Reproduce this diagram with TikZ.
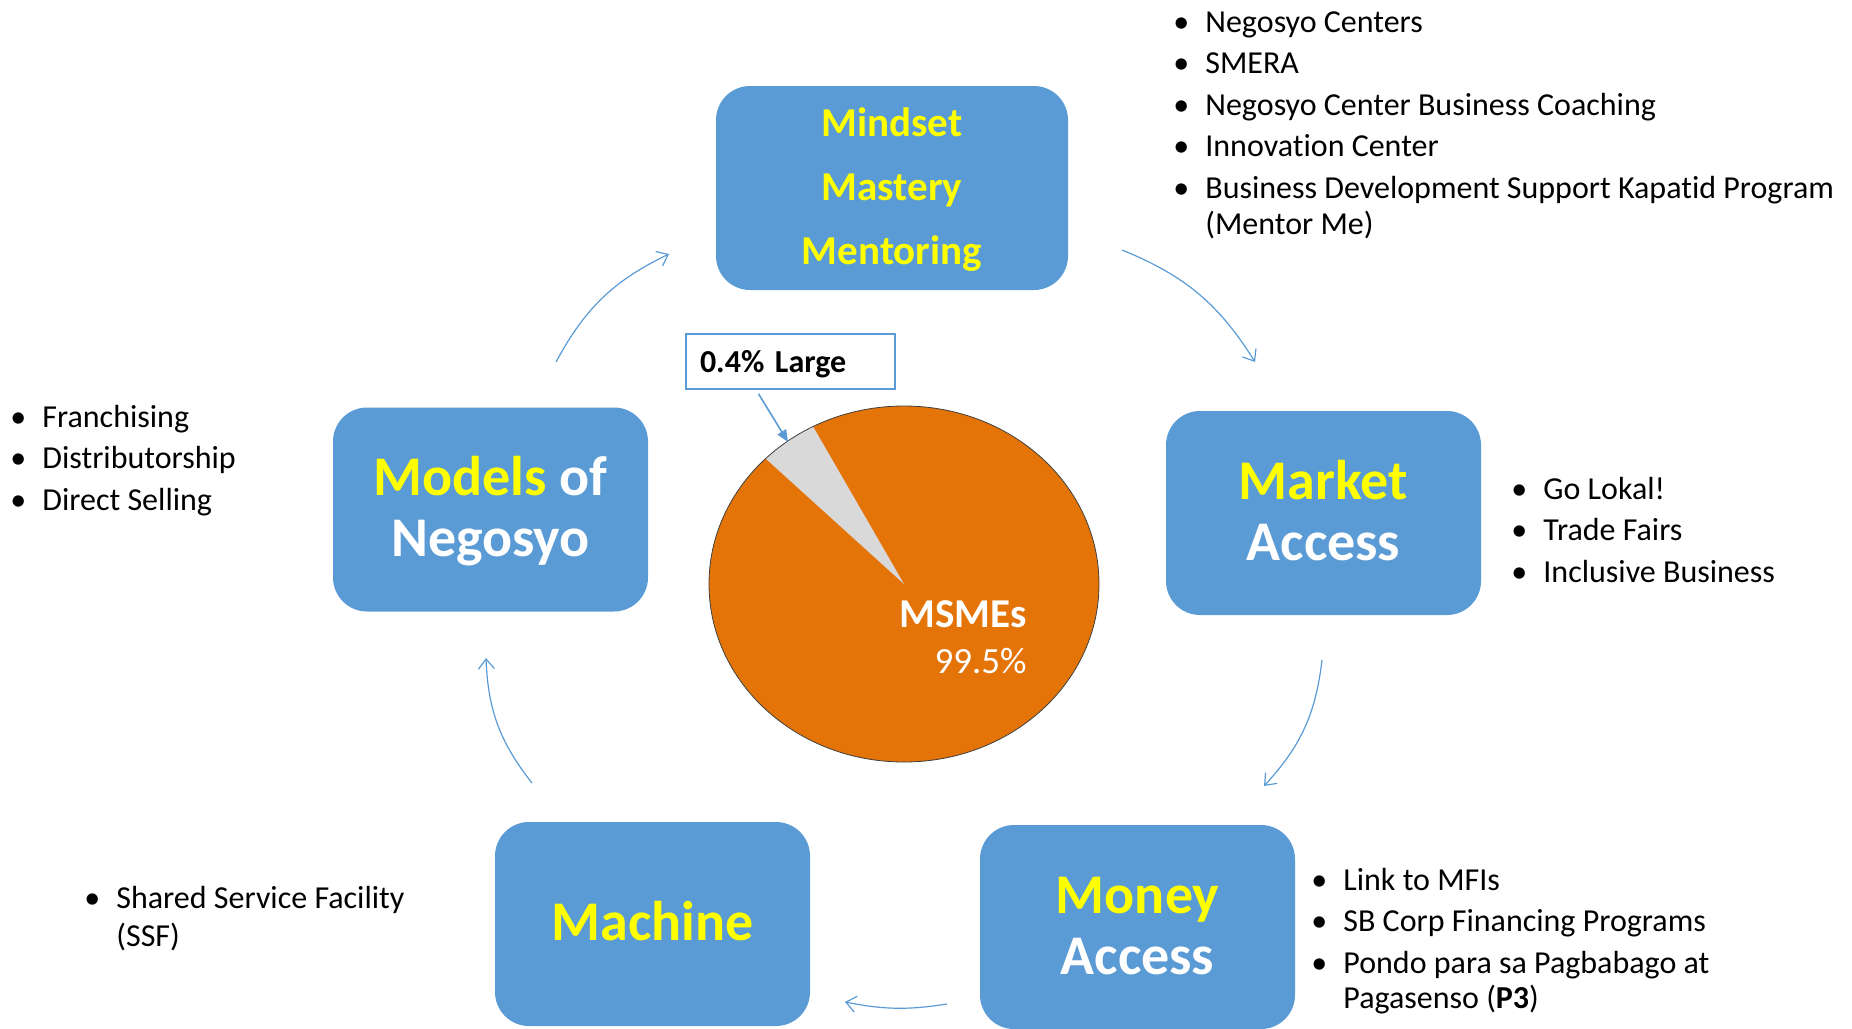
\documentclass[tikz,border=0pt]{standalone}
\usepackage{fontspec}
\setmainfont{Carlito}[Ligatures=NoCommon]
\usetikzlibrary{arrows.meta,calc}
\definecolor{boxblue}{HTML}{5B9BD5}
\definecolor{pieorange}{HTML}{E47407}
\definecolor{pieslice}{HTML}{D9D9D9}
\definecolor{hiyellow}{HTML}{FFFF00}
\tikzset{
    stage/.style={
        fill=boxblue, rounded corners=17pt, inner sep=0pt,
        minimum width=157.5pt, minimum height=102pt,
        align=center, text=white,
        font=\bfseries\fontsize{28}{30.5}\selectfont
    },
    note/.style={
        anchor=north west, align=left, inner sep=0pt,
        font=\fontsize{16}{20.75}\selectfont
    },
    flow/.style={boxblue, line width=0.6pt, -{Straight Barb[length=5pt,width=8pt]}},
    callout/.style={
        draw=boxblue, line width=0.8pt, fill=white,
        minimum width=104.5pt, minimum height=27.5pt,
        text width=90.5pt, text height=13pt, text depth=2.5pt,
        inner xsep=7pt, align=left,
        font=\bfseries\fontsize{16}{19}\selectfont
    },
    pointer/.style={boxblue, line width=0.8pt, -{Triangle[length=6pt,width=5pt]}},
}
\newcommand{\itm}{\llap{\textbullet\hspace{8pt}}}
\newcommand{\yel}[1]{\textcolor{hiyellow}{#1}}
\newcommand{\tall}{\rule{0pt}{26pt}}

\begin{document}
\begin{tikzpicture}[x=0.5pt,y=-0.5pt]
\useasboundingbox (0,0) rectangle (1852,1028);
% pie of enterprises
\coordinate (c) at (904,584);
\fill[pieorange] (c) ellipse [x radius=97.5pt, y radius=89pt];
\fill[pieslice] (c) -- ++(135.2:97.5pt and 89pt)
    arc[start angle=135.2, end angle=117.8, x radius=97.5pt, y radius=89pt] -- cycle;
\draw[black!75, line width=0.4pt] (c) ellipse [x radius=97.5pt, y radius=89pt];
\node[anchor=base east, inner sep=0pt, text=white, font=\bfseries\fontsize{20.5}{24}\selectfont] (msme) at (1027,627) {MSMEs};
\node[anchor=base east, inner sep=0pt, text=white, font=\fontsize{18.5}{22}\selectfont] (share) at (1027,673) {99.5\%};
\node[callout] (large) at (790.5,361.5) {0.4\% Large};
\coordinate (tip) at (788,442);
\draw[pointer] ($(large.south)+(-32,4)$) -- (tip);
% the five boxes
\node[stage, minimum width=176pt, font=\bfseries\fontsize{20.5}{32}\selectfont] (mind) at (892,188)
    {\strut\yel{Mindset}\\\yel{Mastery}\\\yel{Mentoring}\strut};
\node[stage] (market) at (1323.5,513) {\tall\yel{Market}\\Access\strut};
\node[stage] (money) at (1137.5,927) {\tall\yel{Money}\\Access\strut};
\node[stage] (machine) at (652.5,924) {\tall\yel{Machine}\strut};
\node[stage] (models) at (490.5,509.5) {\tall\yel{Models} of\\Negosyo\strut};
% programs beside each box
\node[note] (mindlist) at (1205,3) {\strut\itm Negosyo Centers\\\itm SMERA\\\itm Negosyo Center Business Coaching\\\itm Innovation Center\\\itm Business Development Support Kapatid Program\\[-2.5pt](Mentor Me)};
\node[note] (marketlist) at (1543,470) {\strut\itm Go Lokal!\\\itm Trade Fairs\\\itm Inclusive Business};
\node[note] (moneylist) at (1343,861) {\strut\itm Link to MFIs\\\itm SB Corp Financing Programs\\\itm Pondo para sa Pagbabago at\\[-3pt]Pagasenso (\textbf{P3})};
\node[note] (machinelist) at (116,879) {\strut\itm Shared Service Facility\\[-1.5pt](SSF)};
\node[note] (modelslist) at (42,398) {\strut\itm Franchising\\\itm Distributorship\\\itm Direct Selling};
% cycle arrows
\coordinate (f1a) at (1122,250);
\coordinate (f1b) at (1255,362);
\coordinate (f2a) at (1322,660);
\coordinate (f2b) at (1264,786);
\coordinate (f3a) at (947,1004);
\coordinate (f3b) at (845,1002);
\coordinate (f4a) at (532,783);
\coordinate (f4b) at (486,658);
\coordinate (f5a) at (556,362);
\coordinate (f5b) at (669,254);
\draw[flow] (f1a) to[bend left=18] (f1b);
\draw[flow] (f2a) to[bend left=18] (f2b);
\draw[flow] (f3a) to[bend left=10] (f3b);
\draw[flow] (f4a) to[bend left=18] (f4b);
\draw[flow] (f5a) to[bend left=18] (f5b);
\end{tikzpicture}
\end{document}
